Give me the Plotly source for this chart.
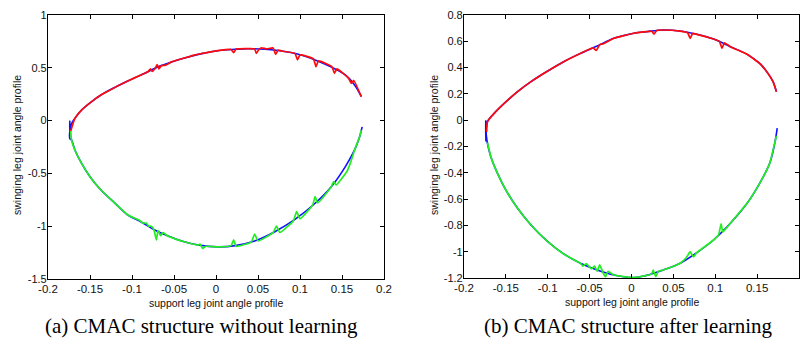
import plotly.graph_objects as go

# ---------------- (a) CMAC structure without learning ----------------
a_ref_up_x = [-0.174, -0.174, -0.172, -0.168, -0.160, -0.148, -0.137, -0.121, -0.105, -0.081, -0.069, -0.053,
              -0.033, -0.017, 0.002, 0.023, 0.038, 0.058, 0.078, 0.098, 0.118, 0.138, 0.154, 0.165, 0.173]
a_ref_up_y = [0.0, -0.10, -0.03, 0.021, 0.10, 0.18, 0.242, 0.312, 0.375, 0.463, 0.51, 0.556,
              0.603, 0.634, 0.662, 0.675, 0.681, 0.675, 0.659, 0.628, 0.574, 0.504, 0.432, 0.337, 0.227]
a_ref_lo_x = [-0.174, -0.174, -0.172, -0.168, -0.160, -0.150, -0.137, -0.121, -0.105, -0.089, -0.073, -0.057,
              -0.041, -0.021, 0.002, 0.023, 0.046, 0.070, 0.094, 0.118, 0.138, 0.154, 0.165, 0.171, 0.174]
a_ref_lo_y = [-0.10, -0.17, -0.184, -0.278, -0.405, -0.531, -0.657, -0.777, -0.894, -0.96, -1.036, -1.093,
              -1.14, -1.178, -1.196, -1.184, -1.14, -1.052, -0.935, -0.783, -0.619, -0.436, -0.278, -0.152, -0.06]

a_out_up_x = [-0.173, -0.168, -0.160, -0.148, -0.137, -0.121, -0.105, -0.090, -0.081, -0.078, -0.076, -0.072,
              -0.070, -0.068, -0.065, -0.060, -0.053, -0.040, -0.033, -0.025, -0.017, 0.002, 0.018, 0.021,
              0.024, 0.038, 0.046, 0.048, 0.051, 0.054, 0.060, 0.068, 0.071, 0.074, 0.078, 0.094, 0.097,
              0.100, 0.116, 0.119, 0.122, 0.138, 0.141, 0.144, 0.158, 0.161, 0.164, 0.173]
a_out_up_y = [-0.10, 0.021, 0.10, 0.18, 0.242, 0.312, 0.375, 0.43, 0.463, 0.49, 0.465, 0.50,
              0.53, 0.49, 0.52, 0.525, 0.556, 0.588, 0.603, 0.622, 0.634, 0.662, 0.674, 0.643,
              0.677, 0.681, 0.679, 0.637, 0.672, 0.69, 0.679, 0.688, 0.628, 0.668, 0.659, 0.636, 0.575,
              0.622, 0.585, 0.51, 0.565, 0.51, 0.448, 0.49, 0.40, 0.353, 0.38, 0.227]
a_out_lo_x = [-0.173, -0.172, -0.168, -0.160, -0.150, -0.137, -0.121, -0.105, -0.095, -0.090, -0.087, -0.083,
              -0.080, -0.077, -0.074, -0.071, -0.069, -0.066, -0.063, -0.058, -0.050, -0.041, -0.021,
              -0.019, -0.016, -0.012, 0.002, 0.018, 0.021, 0.024, 0.042, 0.046, 0.050, 0.068, 0.072, 0.076,
              0.092, 0.096, 0.100, 0.115, 0.118, 0.121, 0.137, 0.140, 0.143, 0.156, 0.160, 0.165, 0.171, 0.173]
a_out_lo_y = [-0.10, -0.184, -0.278, -0.405, -0.531, -0.657, -0.777, -0.894, -0.93, -0.95, -0.97, -0.97,
              -1.0, -1.0, -1.03, -1.13, -1.04, -1.09, -1.06, -1.09, -1.115, -1.14, -1.178,
              -1.17, -1.21, -1.19, -1.196, -1.184, -1.13, -1.19, -1.15, -1.074, -1.14, -1.06, -0.998, -1.06,
              -0.95, -0.862, -0.93, -0.80, -0.72, -0.78, -0.63, -0.578, -0.61, -0.48, -0.40, -0.278, -0.152, -0.09]

# ---------------- (b) CMAC structure after learning ----------------
b_ref_up_x = [-0.174, -0.174, -0.172, -0.164, -0.152, -0.136, -0.120, -0.100, -0.081, -0.061, -0.041, -0.021,
              0.003, 0.018, 0.038, 0.058, 0.078, 0.098, 0.118, 0.138, 0.153, 0.163, 0.169, 0.173]
b_ref_up_y = [0.0, -0.16, -0.011, 0.052, 0.128, 0.217, 0.293, 0.374, 0.445, 0.508, 0.564, 0.623,
              0.661, 0.673, 0.686, 0.678, 0.653, 0.617, 0.559, 0.501, 0.432, 0.356, 0.293, 0.217]
b_ref_lo_x = [-0.174, -0.172, -0.168, -0.160, -0.150, -0.136, -0.120, -0.100, -0.081, -0.061, -0.041, -0.021,
              0.003, 0.018, 0.038, 0.058, 0.078, 0.098, 0.118, 0.138, 0.153, 0.165, 0.171, 0.174]
b_ref_lo_y = [-0.075, -0.176, -0.277, -0.404, -0.531, -0.670, -0.797, -0.924, -1.017, -1.088, -1.139, -1.177,
              -1.197, -1.18, -1.139, -1.088, -1.007, -0.911, -0.784, -0.632, -0.48, -0.328, -0.176, -0.06]

b_out_up_x = [-0.173, -0.172, -0.164, -0.152, -0.136, -0.120, -0.100, -0.081, -0.061, -0.046, -0.042,
              -0.038, -0.034, -0.021, 0.003, 0.018, 0.024, 0.027, 0.030, 0.038, 0.058, 0.067, 0.070, 0.073,
              0.078, 0.098, 0.105, 0.108, 0.111, 0.118, 0.138, 0.153, 0.163, 0.169, 0.173]
b_out_up_y = [-0.09, -0.011, 0.052, 0.128, 0.217, 0.293, 0.374, 0.445, 0.508, 0.55, 0.53,
              0.575, 0.58, 0.623, 0.661, 0.673, 0.677, 0.655, 0.683, 0.686, 0.678, 0.665, 0.623, 0.66,
              0.653, 0.617, 0.60, 0.546, 0.588, 0.559, 0.501, 0.432, 0.356, 0.293, 0.217]
b_out_lo_x = [-0.172, -0.168, -0.160, -0.150, -0.136, -0.120, -0.100, -0.081, -0.061, -0.058, -0.054,
              -0.048, -0.044, -0.041, -0.038, -0.034, -0.031, -0.028, -0.021, 0.003, 0.018, 0.024, 0.026,
              0.029, 0.032, 0.038, 0.058, 0.066, 0.070, 0.074, 0.078, 0.098, 0.104, 0.107, 0.109, 0.112,
              0.118, 0.138, 0.153, 0.165, 0.171, 0.173]
b_out_lo_y = [-0.17, -0.277, -0.404, -0.531, -0.670, -0.797, -0.924, -1.017, -1.088, -1.11, -1.09,
              -1.13, -1.11, -1.15, -1.10, -1.16, -1.19, -1.15, -1.177, -1.197, -1.18, -1.17, -1.139,
              -1.19, -1.15, -1.139, -1.088, -1.04, -1.0, -1.04, -1.007, -0.911, -0.87, -0.789, -0.85, -0.83,
              -0.784, -0.632, -0.48, -0.328, -0.176, -0.12]

x_ticks = [-0.2, -0.15, -0.1, -0.05, 0, 0.05, 0.1, 0.15, 0.2]
x_tick_text = ["-0.2", "-0.15", "-0.1", "-0.05", "0", "0.05", "0.1", "0.15", "0.2"]
a_y_ticks = [-1.5, -1, -0.5, 0, 0.5, 1]
a_y_tick_text = ["-1.5", "-1", "-0.5", "0", "0.5", "1"]
b_y_ticks = [-1.2, -1, -0.8, -0.6, -0.4, -0.2, 0, 0.2, 0.4, 0.6, 0.8]
b_y_tick_text = ["-1.2", "-1", "-0.8", "-0.6", "-0.4", "-0.2", "0", "0.2", "0.4", "0.6", "0.8"]

x_title = "support leg joint angle profile"
y_title = "swinging leg joint angle profile"
captions = ["(a) CMAC structure without learning", "(b) CMAC structure after learning"]

BLUE, RED, GREEN = "#1010FF", "#FF0A0A", "#22EE22"
W, H = 806, 340

fig = go.Figure()

def add(x, y, color, xa, ya, width=1.6, smooth=1.0):
    fig.add_trace(go.Scatter(x=x, y=y, mode="lines",
                             line=dict(color=color, width=width, shape="spline", smoothing=smooth),
                             xaxis=xa, yaxis=ya, showlegend=False, hoverinfo="skip"))

add(a_ref_up_x, a_ref_up_y, BLUE, "x", "y")
add(a_ref_lo_x, a_ref_lo_y, BLUE, "x", "y")
add(a_out_up_x, a_out_up_y, RED, "x", "y", 1.7, 0.4)
add(a_out_lo_x, a_out_lo_y, GREEN, "x", "y", 1.7, 0.4)
add(b_ref_up_x, b_ref_up_y, BLUE, "x2", "y2")
add(b_ref_lo_x, b_ref_lo_y, BLUE, "x2", "y2")
add(b_out_up_x, b_out_up_y, RED, "x2", "y2", 1.7, 0.4)
add(b_out_lo_x, b_out_lo_y, GREEN, "x2", "y2", 1.7, 0.4)

xtickfont = dict(family="Liberation Sans, Arial", size=11.5, color="#111")
ytickfont = dict(family="Liberation Sans, Arial", size=11, color="#111")
common = dict(showgrid=False, zeroline=False, showline=True, linecolor="black", linewidth=1.2,
              mirror="ticks", ticks="inside", ticklen=4, tickcolor="black", tickwidth=1,
              fixedrange=True, automargin=False)

def px_x(p):
    return p / W

def px_y(p):
    return 1 - p / H

fig.update_layout(
    width=W, height=H, margin=dict(l=0, r=0, t=0, b=0, autoexpand=False),
    paper_bgcolor="white", plot_bgcolor="white",
    xaxis=dict(domain=[px_x(48), px_x(384)], range=[-0.2, 0.2], tickvals=x_ticks, ticktext=x_tick_text,
               anchor="y", ticklabelstandoff=-1, tickfont=xtickfont, **common),
    yaxis=dict(domain=[px_y(279), px_y(15)], range=[-1.5, 1], tickvals=a_y_ticks, ticktext=a_y_tick_text,
               anchor="x", ticklabelstandoff=-2, tickfont=ytickfont, **common),
    xaxis2=dict(domain=[px_x(464), px_x(799)], range=[-0.2, 0.2], tickvals=x_ticks, ticktext=x_tick_text,
                anchor="y2", ticklabelstandoff=-1, tickfont=xtickfont, **common),
    yaxis2=dict(domain=[px_y(278), px_y(15)], range=[-1.2, 0.8], tickvals=b_y_ticks, ticktext=b_y_tick_text,
                anchor="x2", ticklabelstandoff=-2, tickfont=ytickfont, **common),
)

titlefont = dict(family="Liberation Sans, Arial", size=10.5, color="#111")
capfont = dict(family="Liberation Serif, Times New Roman", size=21, color="black")
ann = [
    dict(x=px_x(216), y=px_y(303), text=x_title, font=titlefont),
    dict(x=px_x(632), y=px_y(302), text=x_title, font=titlefont),
    dict(x=px_x(17), y=px_y(145), text=y_title, font=titlefont, textangle=-90),
    dict(x=px_x(434), y=px_y(145), text=y_title, font=titlefont, textangle=-90),
    dict(x=px_x(202), y=px_y(326), text=captions[0], font=capfont),
    dict(x=px_x(628), y=px_y(326), text=captions[1], font=capfont),
]
for a in ann:
    a.update(xref="paper", yref="paper", showarrow=False, xanchor="center", yanchor="middle")
fig.update_layout(annotations=ann)

fig.write_html("out.html", config={"displayModeBar": False},
               post_script="document.body.style.margin='0';document.body.style.overflow='hidden';")
